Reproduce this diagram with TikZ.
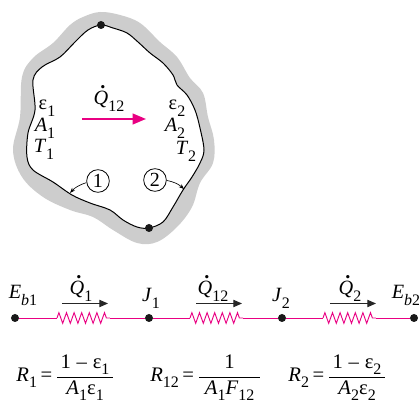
\documentclass[tikz,border=0pt]{standalone}
\usepackage{fontspec}
\setmainfont{Liberation Serif}
\usetikzlibrary{arrows.meta,decorations.pathmorphing}
\definecolor{mag}{RGB}{233,0,130}
\definecolor{band}{RGB}{205,205,205}
\newcommand\Sb[1]{\raisebox{-.3em}{\fontsize{12}{13}\selectfont #1}}
\newcommand\Qd{\leavevmode\rlap{\raisebox{.82em}{\hspace{.33em}\bfseries.}}\textit{Q}}
\newcommand\Eps{ε}
\tikzset{
  x=0.75pt,y=-0.75pt,
  lab/.style={inner sep=0pt,anchor=base,font=\fontsize{15.2}{16}\selectfont},
  frm/.style={inner sep=0pt,font=\fontsize{15.5}{16}\selectfont},
  dotn/.style={circle,fill=black!90,inner sep=0pt,minimum size=6pt},
  magwire/.style={draw=mag,line width=0.7pt},
  resistor/.style={draw=mag,line width=0.7pt,decorate,decoration={zigzag,segment length=5.7pt,amplitude=4pt}},
  flow/.style={draw=black!85,line width=0.7pt,-{Triangle[length=6.5pt,width=5.5pt]}},
  pointer/.style={draw=black,line width=0.5pt,-{Stealth[length=4pt,width=3pt]}},
  numc/.style={circle,draw=black,line width=0.6pt,minimum size=17pt,inner sep=0pt,font=\fontsize{15}{16}\selectfont}
}
\begin{document}
\begin{tikzpicture}
\useasboundingbox (0,0) rectangle (419,402);
% grey band
\fill[band] plot[smooth cycle,tension=0.6] coordinates {(100,12)(120,15)(140,23)(160,42)(177,57)(190,78)(203,93)(208,117)(214,140)(213,163)(200,183)(192,207)(177,227)(157,242)(137,243)(113,230)(93,217)(70,210)(43,197)(22,177)(13,150)(20,117)(22,77)(33,58)(53,43)(70,25)(83,17)};
% inner boundary
\draw[draw=black,fill=white,line width=0.75pt] plot[smooth cycle,tension=0.55] coordinates {(101,25)(113,28)(127,33)(138,42)(150,53)(163,63)(173,75)(177,85)(187,95)(195,110)(200,128)(204,150)(200,163)(192,177)(183,190)(173,207)(163,222)(149,228)(137,227)(123,220)(110,210)(90,203)(72,195)(53,182)(33,170)(27,157)(28,133)(35,110)(33,80)(42,67)(60,57)(75,42)(88,30)};
\node[dotn] (top) at (101,25) {};
\node[dotn] (bot) at (149,228) {};
% enclosure labels
\node[lab] (e1) at (47,110) {\Eps\Sb{1}};
\node[lab] (a1) at (45,132) {\textit{A}\Sb{1}};
\node[lab] (t1) at (44,153) {\textit{T}\Sb{1}};
\node[lab] (e2) at (177,110) {\Eps\Sb{2}};
\node[lab] (a2) at (175,132) {\textit{A}\Sb{2}};
\node[lab] (t2) at (186,155) {\textit{T}\Sb{2}};
\node[lab] (q) at (109,105) {\Qd\Sb{12}};
\coordinate (qa) at (82,119);
\coordinate (qb) at (146,119);
\draw[draw=mag,line width=1.5pt,-{Triangle[length=10pt,width=8pt]}] (qa) -- (qb);
\node[numc] (n1) at (98,181) {1};
\node[numc] (n2) at (155,180) {2};
\coordinate (p1) at (70,193);
\coordinate (p2) at (184,189);
\draw[pointer] (n1) to[bend right=15] (p1);
\draw[pointer] (n2) to[bend left=15] (p2);
% network
\node[dotn] (d1) at (15,318) {};
\node[dotn] (d2) at (149,318) {};
\node[dotn] (d3) at (282,318) {};
\node[dotn] (d4) at (414,318) {};
\coordinate (r1a) at (57,318); \coordinate (r1b) at (110,318);
\coordinate (r2a) at (190,318); \coordinate (r2b) at (243,318);
\coordinate (r3a) at (323,318); \coordinate (r3b) at (376,318);
\draw[magwire] (d1) -- (r1a);
\draw[magwire] (r1b) -- (d2);
\draw[magwire] (d2) -- (r2a);
\draw[magwire] (r2b) -- (d3);
\draw[magwire] (d3) -- (r3a);
\draw[magwire] (r3b) -- (d4);
\draw[resistor] (r1a) -- (r1b);
\draw[resistor] (r2a) -- (r2b);
\draw[resistor] (r3a) -- (r3b);
\coordinate (f1a) at (62,303.5); \coordinate (f1b) at (108,303.5);
\coordinate (f2a) at (196,303.5); \coordinate (f2b) at (242,303.5);
\coordinate (f3a) at (330,303.5); \coordinate (f3b) at (376,303.5);
\draw[flow] (f1a) -- (f1b);
\draw[flow] (f2a) -- (f2b);
\draw[flow] (f3a) -- (f3b);
\node[lab] (eb1) at (23,299) {\textit{E}\Sb{\textit{b}1}};
\node[lab] (eb2) at (406,299) {\textit{E}\Sb{\textit{b}2}};
\node[lab] (j1) at (151,302) {\textit{J}\Sb{1}};
\node[lab] (j2) at (281,302) {\textit{J}\Sb{2}};
\node[lab] (q1) at (81,295) {\Qd\Sb{1}};
\node[lab] (q12) at (213,295) {\Qd\Sb{12}};
\node[lab] (q2) at (350,295) {\Qd\Sb{2}};
% formulas
\node[frm] (fr1) at (65.5,378) {\textit{R}\Sb{1}\,=\,$\displaystyle\frac{\mbox{\,1\;–\;\Eps\Sb{1}\,}}{\mbox{\textit{A}\Sb{1}\Eps\Sb{1}}}$};
\node[frm] (fr2) at (206,378) {\textit{R}\Sb{12}\,=\,$\displaystyle\frac{\mbox{1}}{\mbox{\;\textit{A}\Sb{1}\textit{F}\Sb{12}\;}}$};
\node[frm] (fr3) at (337.5,378) {\textit{R}\Sb{2}\,=\,$\displaystyle\frac{\mbox{\,1\;–\;\Eps\Sb{2}\,}}{\mbox{\textit{A}\Sb{2}\Eps\Sb{2}}}$};
\end{tikzpicture}
\end{document}
